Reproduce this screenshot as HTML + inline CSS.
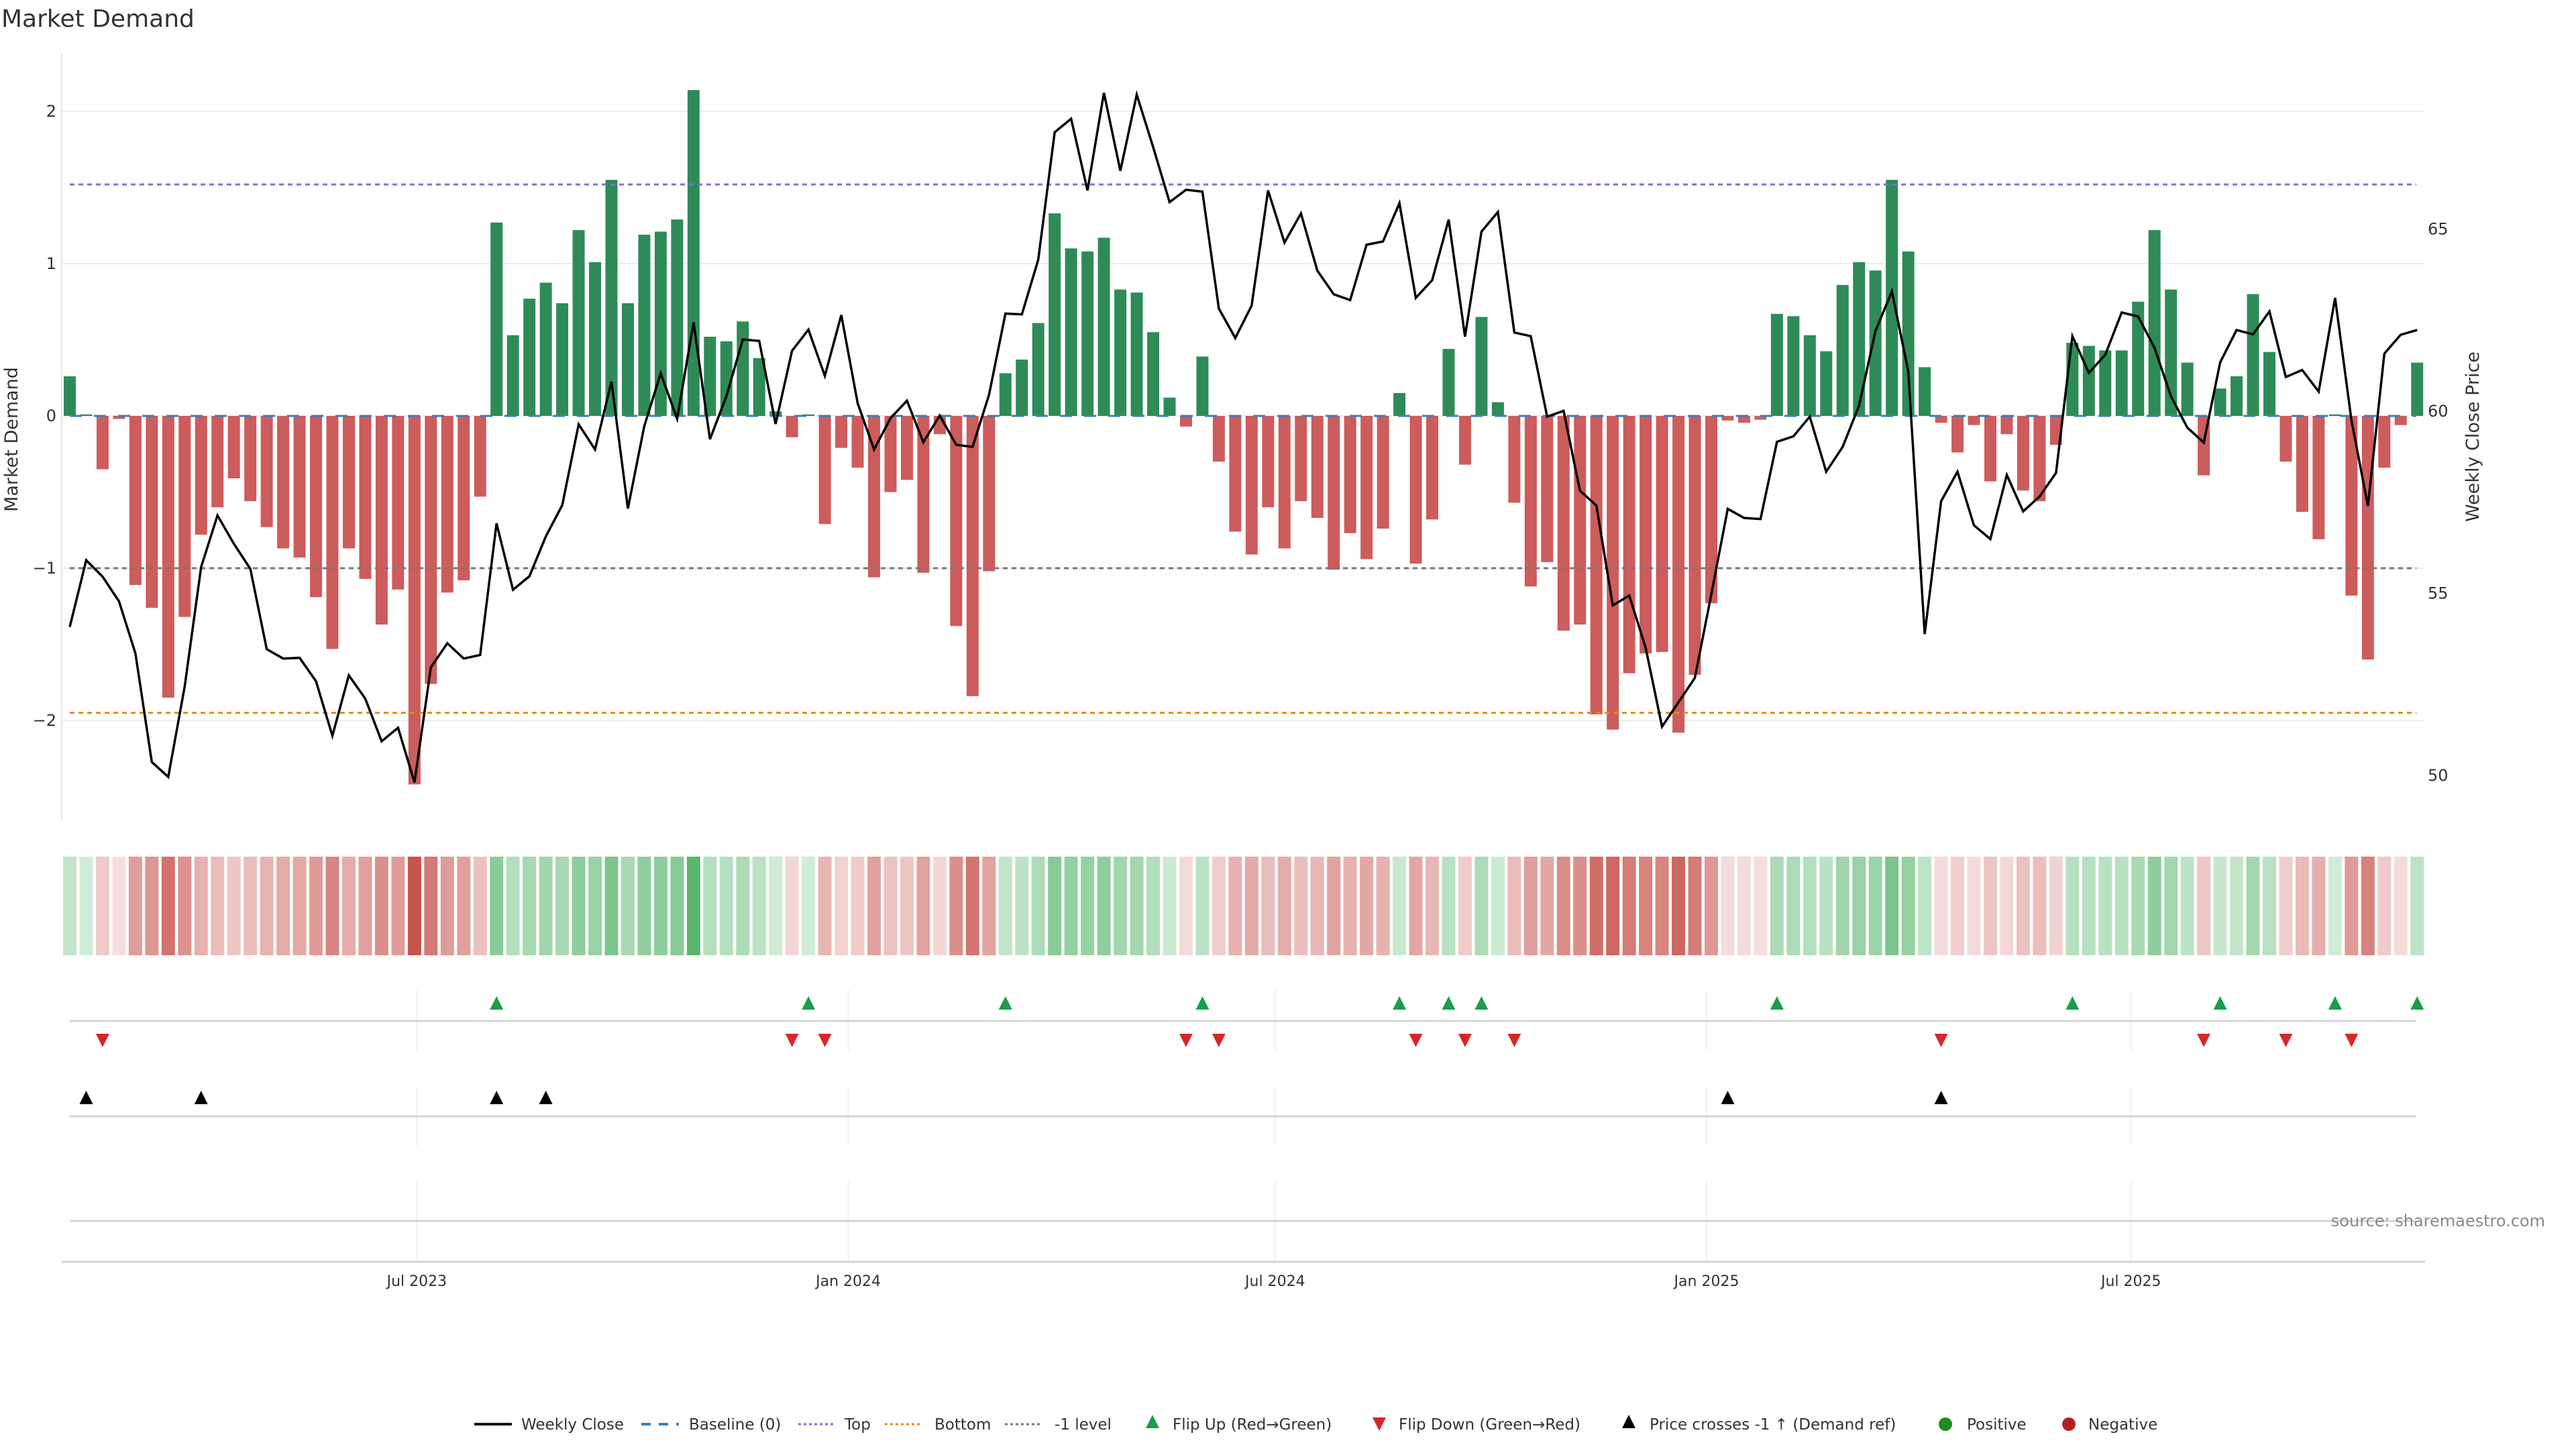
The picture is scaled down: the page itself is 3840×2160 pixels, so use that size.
<!DOCTYPE html>
<html><head><meta charset="utf-8"><title>Market Demand</title>
<style>
html,body{margin:0;padding:0;background:#fff;}
svg{display:block;font-family:"DejaVu Sans","Liberation Sans",sans-serif;}
</style></head>
<body>
<svg id="chart" width="3840" height="2160" viewBox="0 0 3840 2160" xmlns="http://www.w3.org/2000/svg">
<rect x="0" y="0" width="3840" height="2160" fill="#fff"/>
<text x="2" y="40" font-size="36" fill="#333">Market Demand</text>
<g id="gMain"></g>
<g id="gHeat"></g>
<g id="gFlip"></g>
<g id="gCross"></g>
<g id="gAxis"></g>
<text x="3794" y="1828" font-size="24" fill="#888" text-anchor="end">source: sharemaestro.com</text>
<g id="gLegend"></g>
</svg>
<script>
// ---- data ----
const demand = [0.26,0.01,-0.35,-0.02,-1.11,-1.26,-1.85,-1.32,-0.78,-0.60,
-0.41,-0.56,-0.73,-0.87,-0.93,-1.19,-1.53,-0.87,-1.07,-1.37,
-1.14,-2.42,-1.76,-1.16,-1.08,-0.53,1.27,0.53,0.77,0.875,
0.74,1.22,1.01,1.55,0.74,1.19,1.21,1.29,2.14,0.52,
0.49,0.62,0.38,0.03,-0.14,0.01,-0.71,-0.21,-0.34,-1.06,
-0.50,-0.42,-1.03,-0.12,-1.38,-1.84,-1.02,0.28,0.37,0.61,
1.33,1.10,1.08,1.17,0.83,0.81,0.55,0.12,-0.07,0.39,
-0.30,-0.76,-0.91,-0.60,-0.87,-0.56,-0.67,-1.01,-0.77,-0.94,
-0.74,0.15,-0.97,-0.68,0.44,-0.32,0.65,0.09,-0.57,-1.12,
-0.96,-1.41,-1.37,-1.96,-2.06,-1.69,-1.56,-1.55,-2.08,-1.70,
-1.23,-0.03,-0.045,-0.025,0.67,0.655,0.53,0.425,0.86,1.01,
0.955,1.55,1.08,0.32,-0.045,-0.24,-0.06,-0.43,-0.12,-0.49,
-0.56,-0.19,0.48,0.46,0.43,0.43,0.75,1.22,0.83,0.35,
-0.39,0.18,0.26,0.80,0.42,-0.30,-0.63,-0.81,0.01,-1.18,
-1.60,-0.34,-0.06,0.35];
const price = [54.08,55.91,55.46,54.78,53.35,50.37,49.96,52.44,55.72,57.14,
56.36,55.67,53.47,53.21,53.23,52.59,51.09,52.75,52.11,50.94,
51.31,49.81,52.97,53.63,53.21,53.31,56.92,55.10,55.47,56.56,
57.42,59.64,58.95,60.81,57.33,59.59,61.04,59.79,62.44,59.23,
60.41,61.97,61.93,59.65,61.66,62.24,60.97,62.64,60.21,58.95,
59.81,60.29,59.15,59.88,59.08,59.02,60.45,62.68,62.66,64.16,
67.66,68.03,66.06,68.74,66.60,68.69,67.25,65.74,66.08,66.03,
62.82,62.01,62.90,66.06,64.63,65.43,63.86,63.21,63.05,64.57,
64.66,65.71,63.11,63.60,65.26,62.05,64.93,65.47,62.16,62.06,
59.85,60.01,57.82,57.41,54.67,54.94,53.51,51.34,52.01,52.68,
54.97,57.32,57.07,57.04,59.16,59.31,59.85,58.34,59.02,60.15,
62.20,63.29,61.10,53.88,57.53,58.34,56.87,56.49,58.25,57.25,
57.66,58.31,62.06,61.05,61.55,62.71,62.60,61.74,60.41,59.55,
59.14,61.34,62.23,62.11,62.74,60.94,61.13,60.54,63.11,59.75,
57.40,61.58,62.10,62.23];
const demandTicks = [-2,-1,0,1,2];
const demandTickLabels = ["\u22122","\u22121","0","1","2"];
const priceTicks = [50,55,60,65];
const priceTickLabels = ["50","55","60","65"];
const topLevel = [1.52];
const bottomLevel = [-1.95];
const minusOneLevel = [-1];
const dateTicks = ["2023-07-01","2024-01-01","2024-07-01","2025-01-01","2025-07-01"];
const dateTickLabels = ["Jul 2023","Jan 2024","Jul 2024","Jan 2025","Jul 2025"];
const firstWeek = ["2023-02-03"];

// ---- layout ----
const NS = "http://www.w3.org/2000/svg";
const plotL = 92, plotR = 3615, plotT = 79, plotB = 1223;
const x0 = 104, step = 24.47;
const yD = v => 620 - v * 227;
const yP = p => 613 - (p - 60) * 54.3;
const xI = i => x0 + i * step;
const d0 = new Date(firstWeek[0] + "T00:00:00Z").getTime();
const xDate = s => x0 + (new Date(s + "T00:00:00Z").getTime() - d0) / (7 * 864e5) * step;
function mk(tag, attrs, parent) {
  const e = document.createElementNS(NS, tag);
  for (const k in attrs) e.setAttribute(k, attrs[k]);
  parent.appendChild(e);
  return e;
}
const gMain = document.getElementById('gMain');
const gHeat = document.getElementById('gHeat');
const gFlip = document.getElementById('gFlip');
const gCross = document.getElementById('gCross');
const gAxis = document.getElementById('gAxis');
const gLegend = document.getElementById('gLegend');

demandTicks.forEach((v, k) => {
  const gl = mk('line', {x1: plotL, x2: plotR, y1: yD(v), y2: yD(v), stroke: '#ececf0', 'stroke-width': 2}, gMain);
  
  
  const t = mk('text', {x: 84, y: yD(v) + 8, 'font-size': 24, fill: '#333', 'text-anchor': 'end'}, gMain);
  t.textContent = demandTickLabels[k];
  
  
});
const axL = mk('line', {x1: plotL, x2: plotL, y1: plotT, y2: plotB, stroke: '#e6e6e6', 'stroke-width': 2}, gMain);


priceTicks.forEach((p, k) => {
  const t = mk('text', {x: 3619, y: yP(p) + 8, 'font-size': 24, fill: '#333'}, gMain);
  t.textContent = priceTickLabels[k];
  
  
});
const yt = mk('text', {x: 0, y: 0, 'font-size': 27, fill: '#333', 'text-anchor': 'middle', transform: 'translate(26,655) rotate(-90)'}, gMain);
yt.textContent = 'Market Demand';


const yt2 = mk('text', {x: 0, y: 0, 'font-size': 27, fill: '#333', 'text-anchor': 'middle', transform: 'translate(3695,651) rotate(-90)'}, gMain);
yt2.textContent = 'Weekly Close Price';



demand.forEach((v, i) => {
  const y1 = yD(Math.max(v, 0)), y2 = yD(Math.min(v, 0));
  const b = mk('rect', {x: xI(i) - 9, y: y1, width: 18, height: Math.max(y2 - y1, 1), fill: v >= 0 ? '#2e8b57' : '#cd5c5c'}, gMain);
  
  
});
function hline(v, color, dash, name, w) {
  const l = mk('line', {x1: 104, x2: 3602, y1: yD(v), y2: yD(v), stroke: color, 'stroke-width': w, 'stroke-dasharray': dash}, gMain);
  
  
}
hline(topLevel[0], '#7b6fdc', '7 6', 'top-line', 3);
hline(bottomLevel[0], '#e08a1e', '7 6', 'bottom-line', 3);
hline(minusOneLevel[0], '#777', '7 6', 'minus-one-line', 3);
hline(0, '#3a7fb8', '18 18', 'baseline-zero', 3);
const pts = price.map((p, i) => xI(i).toFixed(1) + ',' + yP(p).toFixed(1)).join(' ');
const pl = mk('polyline', {points: pts, fill: 'none', stroke: '#000', 'stroke-width': 3.5, 'stroke-linejoin': 'miter'}, gMain);



function lerp(a, b, t) { return a.map((c, k) => Math.round(c + (b[k] - c) * t)); }
demand.forEach((v, i) => {
  const t = Math.min(Math.abs(v) / 2.4, 1);
  const c = v >= 0 ? lerp([208, 236, 215], [76, 175, 96], t) : lerp([245, 222, 222], [200, 84, 76], t);
  const r = mk('rect', {x: xI(i) - 10, y: 1277, width: 20, height: 147, fill: 'rgb(' + c.join(',') + ')'}, gHeat);
  
  
});

function vgrid(g, ya, yb) {
  dateTicks.forEach(s => {
    const l = mk('line', {x1: xDate(s), x2: xDate(s), y1: ya, y2: yb, stroke: '#efefef', 'stroke-width': 2}, g);
    
    
  });
}
vgrid(gFlip, 1476, 1566);
vgrid(gCross, 1621, 1708);
vgrid(gAxis, 1761, 1880);
function hl(g, y, name) {
  const l = mk('line', {x1: 104, x2: 3602, y1: y, y2: y, stroke: '#d4d4d4', 'stroke-width': 3}, g);
  
  
}
hl(gFlip, 1522, 'flip-panel-line');
hl(gCross, 1664, 'cross-panel-line');
hl(gAxis, 1820, 'empty-panel-line');

function tri(g, cx, cy, up, color, name) {
  const p = up ? [cx - 10, cy + 10, cx + 10, cy + 10, cx, cy - 10] : [cx - 10, cy - 10, cx + 10, cy - 10, cx, cy + 10];
  const t = mk('polygon', {points: p.join(' '), fill: color}, g);
  
  
}
for (let i = 1; i < demand.length; i++) {
  if (demand[i - 1] < 0 && demand[i] >= 0) tri(gFlip, xI(i), 1495, true, '#1a9e4a', 'flip-up-marker');
  if (demand[i - 1] >= 0 && demand[i] < 0) tri(gFlip, xI(i), 1551, false, '#d62728', 'flip-down-marker');
}
const refPrice = 60 - (yD(minusOneLevel[0]) - 613) / 54.3;
for (let i = 1; i < price.length; i++) {
  if (price[i - 1] < refPrice && price[i] >= refPrice) tri(gCross, xI(i), 1636, true, '#000', 'price-cross-marker');
}

const xa = mk('line', {x1: plotL, x2: plotR, y1: 1881, y2: 1881, stroke: '#d4d4d4', 'stroke-width': 3}, gAxis);


dateTicks.forEach((s, k) => {
  const t = mk('text', {x: xDate(s), y: 1917, 'font-size': 22, fill: '#333', 'text-anchor': 'middle'}, gAxis);
  t.textContent = dateTickLabels[k];
  
  
});

const LY = 2123;
function ltext(x, s) {
  const t = mk('text', {x: x, y: LY + 8, 'font-size': 23, fill: '#333'}, gLegend);
  t.textContent = s;
  
  
}
function lline(x, color, dash, w) {
  const l = mk('line', {x1: x, x2: x + 56, y1: LY, y2: LY, stroke: color, 'stroke-width': w, 'stroke-dasharray': dash}, gLegend);
  
  
}
lline(707, '#111', 'none', 4); ltext(777, 'Weekly Close');
lline(956, '#3a7fb8', '14 12', 4); ltext(1027, 'Baseline (0)');
lline(1190, '#7b6fdc', '4 4', 3); ltext(1259, 'Top');
lline(1319, '#e08a1e', '4 4', 3); ltext(1393, 'Bottom');
lline(1498, '#777', '4 4', 3); ltext(1572, '-1 level');
tri(gLegend, 1718, LY - 4, true, '#1a9e4a', 'legend-swatch'); ltext(1748, 'Flip Up (Red\u2192Green)');
tri(gLegend, 2056, LY, false, '#d62728', 'legend-swatch'); ltext(2085, 'Flip Down (Green\u2192Red)');
tri(gLegend, 2428, LY - 4, true, '#000', 'legend-swatch'); ltext(2459, 'Price crosses -1 \u2191 (Demand ref)');
const c1 = mk('circle', {cx: 2900, cy: LY, r: 10, fill: '#228b22'}, gLegend);


ltext(2932, 'Positive');
const c2 = mk('circle', {cx: 3084, cy: LY, r: 10, fill: '#b22222'}, gLegend);


ltext(3113, 'Negative');
</script>
</body></html>
